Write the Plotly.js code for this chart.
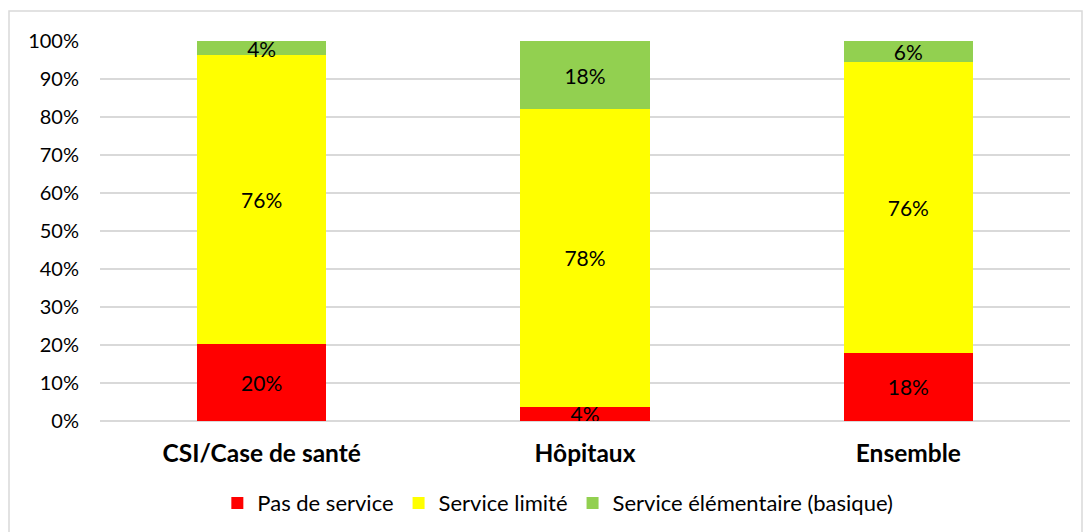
<!DOCTYPE html>
<html><head><meta charset="utf-8">
<script src="https://cdn.plot.ly/plotly-3.0.1.min.js"></script>
<style>html,body{margin:0;padding:0;background:#fff}#chart{width:1085px;height:532px}</style>
</head><body><div id="chart"></div>
<script>
const categories = ["CSI/Case de santé", "Hôpitaux", "Ensemble"];
const seriesNames = ["Pas de service", "Service limité", "Service élémentaire (basique)"];
const pasDeService = [20.3, 3.8, 18.0];
const serviceLimite = [76.0, 78.3, 76.4];
const serviceElementaire = [3.7, 17.9, 5.6];
const colors = ["#ff0000", "#ffff00", "#92d050"];

const FONT = "Lato, 'Open Sans', sans-serif";
const series = [pasDeService, serviceLimite, serviceElementaire];
const traces = series.map((vals, i) => ({
  type: "bar",
  name: seriesNames[i],
  x: categories,
  y: vals.map(v => v / 100),
  text: vals.map(v => Math.round(v) + "%"),
  textposition: "inside",
  insidetextanchor: "middle",
  constraintext: "none",
  textfont: {family: FONT, size: 21, color: "#000"},
  marker: {color: colors[i], line: {width: 0}},
  width: 0.4,
  hoverinfo: "skip"
}));

const layout = {
  width: 1085, height: 532,
  margin: {l: 100, r: 15, t: 41, b: 111, autoexpand: false},
  barmode: "stack",
  paper_bgcolor: "#fff", plot_bgcolor: "#fff",
  font: {family: FONT, size: 21, color: "#000"},
  showlegend: true,
  legend: {orientation: "h", x: 0.472, xanchor: "center", y: -0.216, yanchor: "middle",
           font: {family: FONT, size: 22, color: "#000"}, traceorder: "normal",
           itemwidth: 30, itemsizing: "constant"},
  xaxis: {type: "category", showgrid: false, showline: false, zeroline: false, automargin: false,
          tickfont: {family: FONT, size: 24.5, color: "#000", weight: "bold"},
          ticks: "", ticklabelstandoff: 15},
  yaxis: {range: [0, 1], dtick: 0.1, tickformat: ".0%", showgrid: true, automargin: false,
          gridcolor: "#d9d9d9", gridwidth: 1.5, zeroline: true, zerolinecolor: "#d9d9d9",
          zerolinewidth: 1.5, showline: false, ticks: "", ticklabelstandoff: 20,
          tickfont: {family: FONT, size: 20, color: "#000"}},
  shapes: [{type: "rect", xref: "paper", yref: "paper",
            x0: (9 - 100) / 970, x1: (1082 - 100) / 970,
            y0: (421 - 540) / 380, y1: (421 - 11) / 380,
            line: {color: "#d9d9d9", width: 1.5}, fillcolor: "rgba(0,0,0,0)", layer: "below"}]
};
Plotly.newPlot("chart", traces, layout, {staticPlot: true, displayModeBar: false});
</script></body></html>
